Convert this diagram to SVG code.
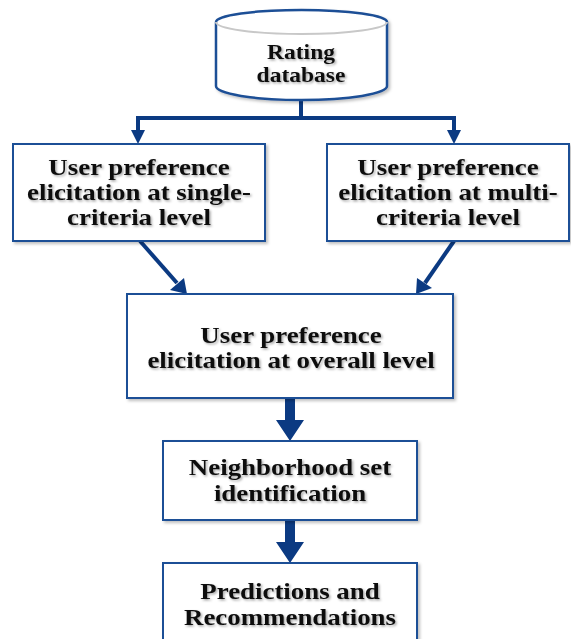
<svg xmlns="http://www.w3.org/2000/svg" width="571" height="639" viewBox="0 0 571 639">
<style>
.box{fill:#ffffff;stroke:#1f4f96;stroke-width:2}
.t{font-family:"Liberation Serif","Times New Roman",serif;font-weight:bold;font-size:24px;fill:#111111;text-anchor:middle}
.tc{font-size:21px}
.ln{fill:none;stroke:#0b3a82;stroke-width:4}
.hd{fill:#0b3a82}
</style>
<defs>
<filter id="sh" x="-10%" y="-10%" width="130%" height="140%">
<feDropShadow dx="1.5" dy="1.5" stdDeviation="1.2" flood-color="#000" flood-opacity="0.35"/>
</filter>
<filter id="bs" x="-5%" y="-5%" width="115%" height="120%">
<feDropShadow dx="2" dy="2" stdDeviation="1.5" flood-color="#000" flood-opacity="0.25"/>
</filter>
</defs>
<rect width="571" height="639" fill="#ffffff"/>

<g id="connectors">
<path class="ln" d="M301,100 V118 M138,118 H454 M138,116 V132 M454,116 V132"/>
<polygon class="hd" points="131,130 145,130 138,144"/>
<polygon class="hd" points="447,130 461,130 454,144"/>
<path class="ln" d="M140,241 L177,283"/>
<polygon class="hd" points="170,290 184,278 187,294"/>
<path class="ln" d="M454,241 L425,283"/>
<polygon class="hd" points="417,278 432,288 416,294"/>
<polygon class="hd" points="285,398 295,398 295,420 304,420 290,441 276,420 285,420"/>
<polygon class="hd" points="285,520 295,520 295,542 304,542 290,563 276,542 285,542"/>
</g>

<g id="rating-database">
<path d="M216,22 A85.5,12 0 0 1 387,22 V86 A85.5,14 0 0 1 216,86 Z" fill="#ffffff" stroke="#1f4f96" stroke-width="2.5" filter="url(#bs)"/>
<path d="M216,22 A85.5,12 0 0 0 387,22" fill="none" stroke="#c8c8c8" stroke-width="2"/>
<g filter="url(#sh)">
<text class="t tc" transform="translate(301,0) scale(1.12,1)"><tspan x="0" y="59">Rating</tspan><tspan x="0" y="82">database</tspan></text>
</g>
</g>

<g id="single-criteria">
<rect class="box" x="13" y="144" width="252" height="97" filter="url(#bs)"/>
<g filter="url(#sh)">
<text class="t" transform="translate(139,0) scale(1.12,1)"><tspan x="0" y="175">User preference</tspan><tspan x="0" y="200">elicitation at single-</tspan><tspan x="0" y="225">criteria level</tspan></text>
</g>
</g>

<g id="multi-criteria">
<rect class="box" x="327" y="144" width="242" height="97" filter="url(#bs)"/>
<g filter="url(#sh)">
<text class="t" transform="translate(448,0) scale(1.12,1)"><tspan x="0" y="175">User preference</tspan><tspan x="0" y="200">elicitation at multi-</tspan><tspan x="0" y="225">criteria level</tspan></text>
</g>
</g>

<g id="overall-level">
<rect class="box" x="127" y="294" width="326" height="104" filter="url(#bs)"/>
<g filter="url(#sh)">
<text class="t" transform="translate(291,0) scale(1.12,1)"><tspan x="0" y="343">User preference</tspan><tspan x="0" y="368">elicitation at overall level</tspan></text>
</g>
</g>

<g id="neighborhood">
<rect class="box" x="163" y="441" width="254" height="79" filter="url(#bs)"/>
<g filter="url(#sh)">
<text class="t" transform="translate(290,0) scale(1.12,1)"><tspan x="0" y="475">Neighborhood set</tspan><tspan x="0" y="501">identification</tspan></text>
</g>
</g>

<g id="predictions">
<rect class="box" x="163" y="563" width="254" height="90" filter="url(#bs)"/>
<g filter="url(#sh)">
<text class="t" transform="translate(290,0) scale(1.12,1)"><tspan x="0" y="599">Predictions and</tspan><tspan x="0" y="625">Recommendations</tspan></text>
</g>
</g>
</svg>
